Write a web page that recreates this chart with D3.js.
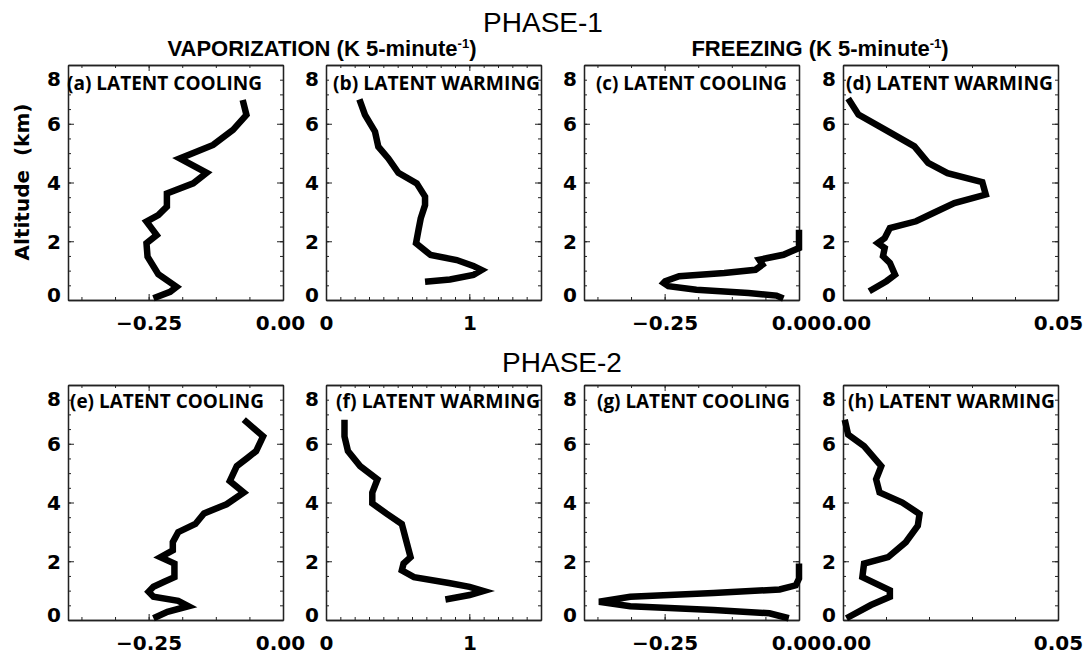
<!DOCTYPE html>
<html>
  <head>
    <meta charset="utf-8">
    <title>Latent cooling and warming profiles</title>
    <style>
      body { margin: 0; background: #fff; }
      .tick text { font-family: 'DejaVu Sans', sans-serif; font-weight: bold; font-size: 20px; fill: #000; }
      .ptitle { font-family: 'Open Sans', sans-serif; font-weight: bold; font-size: 19px; fill: #000; }
      .header { font-family: 'Liberation Sans', Arial, sans-serif; font-weight: bold; font-size: 22px; fill: #000; }
      .phase { font-family: 'Liberation Sans', Arial, sans-serif; font-size: 28px; fill: #000; }
      .ylab { font-family: 'DejaVu Sans', sans-serif; font-weight: bold; font-size: 20px; fill: #000; }
      .profile { fill: none; stroke: #000; stroke-width: 6.5; stroke-linejoin: miter; }
    </style>
  </head>
  <body>
    <div id="chart"></div>
    <script src="https://cdn.jsdelivr.net/npm/d3@7"></script>
    <script>
      // values (K per 5 minutes vs altitude in km)
      var altA = [6.81, 6.30, 5.79, 5.28, 4.82, 4.33, 3.97, 3.63, 3.18, 2.89, 2.67, 2.21, 1.93, 1.47, 0.88, 0.45, 0.28, 0.06];
      var valA = [-0.075, -0.068, -0.093, -0.130, -0.192, -0.142, -0.167, -0.216, -0.216, -0.232, -0.254, -0.235, -0.254, -0.252, -0.232, -0.198, -0.210, -0.241];

      var altB = [6.83, 6.30, 5.73, 5.22, 4.82, 4.33, 3.97, 3.52, 3.23, 2.78, 2.38, 1.93, 1.53, 1.36, 1.16, 1.02, 0.85, 0.70, 0.62];
      var valB = [0.233, 0.272, 0.342, 0.365, 0.435, 0.505, 0.633, 0.691, 0.691, 0.661, 0.645, 0.628, 0.730, 0.912, 1.028, 1.086, 1.028, 0.865, 0.691];

      var altC = [2.39, 1.77, 1.54, 1.37, 1.20, 1.03, 0.92, 0.81, 0.64, 0.58, 0.47, 0.35, 0.24, 0.15, 0.05];
      var valC = [0.0, 0.0, -0.029, -0.074, -0.068, -0.081, -0.139, -0.223, -0.249, -0.252, -0.243, -0.191, -0.094, -0.042, -0.029];

      var altD = [6.86, 6.31, 5.74, 5.23, 4.67, 4.32, 4.01, 3.59, 3.30, 2.96, 2.68, 2.45, 2.11, 1.94, 1.77, 1.49, 1.26, 0.86, 0.64, 0.30];
      var valD = [0.0012, 0.0036, 0.0105, 0.0166, 0.0198, 0.0243, 0.0324, 0.0332, 0.0259, 0.0210, 0.0170, 0.0109, 0.0097, 0.0081, 0.0097, 0.0093, 0.0109, 0.0121, 0.0101, 0.0061];

      var altE = [6.82, 6.25, 5.75, 5.52, 5.24, 4.73, 4.34, 3.94, 3.63, 3.27, 2.99, 2.65, 2.37, 2.14, 1.92, 1.46, 1.30, 1.13, 0.96, 0.79, 0.65, 0.47, 0.28, 0.06];
      var valE = [-0.073, -0.037, -0.050, -0.066, -0.086, -0.099, -0.073, -0.105, -0.147, -0.163, -0.195, -0.205, -0.205, -0.228, -0.202, -0.202, -0.221, -0.241, -0.250, -0.241, -0.195, -0.176, -0.215, -0.241];

      var altF = [6.82, 6.25, 5.75, 5.24, 4.79, 4.34, 3.97, 3.63, 3.27, 2.82, 2.14, 1.92, 1.69, 1.46, 1.26, 1.13, 0.99, 0.85, 0.70];
      var valF = [0.129, 0.129, 0.153, 0.238, 0.359, 0.323, 0.323, 0.420, 0.529, 0.553, 0.590, 0.541, 0.529, 0.614, 0.857, 1.002, 1.099, 1.002, 0.833];

      var altG = [1.92, 1.41, 1.18, 1.04, 0.92, 0.79, 0.62, 0.47, 0.34, 0.23, 0.06];
      var valG = [0.0, 0.0, -0.006, -0.036, -0.159, -0.314, -0.372, -0.314, -0.159, -0.055, -0.019];

      var altH = [6.82, 6.31, 5.92, 5.24, 4.79, 4.34, 4.00, 3.61, 3.21, 2.65, 2.14, 1.92, 1.46, 1.01, 0.79, 0.51, 0.06];
      var valH = [0.0004, 0.0012, 0.0049, 0.0089, 0.0077, 0.0085, 0.0138, 0.0178, 0.0174, 0.0146, 0.0105, 0.0049, 0.0045, 0.0109, 0.0109, 0.0065, 0.0008];

      var panelTitles = ['(a) LATENT COOLING', '(b) LATENT WARMING', '(c) LATENT COOLING', '(d) LATENT WARMING',
                         '(e) LATENT COOLING', '(f) LATENT WARMING', '(g) LATENT COOLING', '(h) LATENT WARMING'];
      var phaseTitles = ['PHASE-1', 'PHASE-2'];
      var groupTitles = ['VAPORIZATION (K 5-minute', 'FREEZING (K 5-minute'];
      var altTicks = [0, 2, 4, 6, 8];

      // x-axis kinds: cooling, vaporization warming, freezing warming
      var coolDomain = [-0.4, 0], coolTicks = [-0.25, 0], coolMinor = 0.0625;
      var vapDomain = [0, 1.5], vapTicks = [0, 1], vapMinor = 0.1;
      var frzDomain = [0, 0.05], frzTicks = [0, 0.05], frzMinor = 0.01;

      var kinds = {
        cool: { domain: coolDomain, ticks: coolTicks, minor: coolMinor, fmt: d3.format('.2f'), edgeDx: -3 },
        vap: { domain: vapDomain, ticks: vapTicks, minor: vapMinor, fmt: d3.format('d'), edgeDx: 0 },
        frz: { domain: frzDomain, ticks: frzTicks, minor: frzMinor, fmt: d3.format('.2f'), edgeDx: 3 }
      };

      var panels = [
        { alt: altA, val: valA, kind: 'cool', row: 0, col: 0, tdx: -1, tlen: 195 },
        { alt: altB, val: valB, kind: 'vap',  row: 0, col: 1, tdx: 7,  tlen: 207 },
        { alt: altC, val: valC, kind: 'cool', row: 0, col: 2, tdx: 12, tlen: 191 },
        { alt: altD, val: valD, kind: 'frz',  row: 0, col: 3, tdx: 3,  tlen: 207 },
        { alt: altE, val: valE, kind: 'cool', row: 1, col: 0, tdx: 2,  tlen: 194 },
        { alt: altF, val: valF, kind: 'vap',  row: 1, col: 1, tdx: 10, tlen: 204 },
        { alt: altG, val: valG, kind: 'cool', row: 1, col: 2, tdx: 13, tlen: 193 },
        { alt: altH, val: valH, kind: 'frz',  row: 1, col: 3, tdx: 5,  tlen: 207 }
      ];

      var width = 1086, height = 658;
      var colX = [68, 326, 584, 843], rowY = [65, 385];
      var pw = 215, ph = 235;

      var svg = d3.select('#chart').append('svg')
        .attr('width', width)
        .attr('height', height);

      // phase titles
      svg.append('text').attr('class', 'phase').attr('x', 543).attr('y', 32)
        .attr('text-anchor', 'middle').text(phaseTitles[0]);
      svg.append('text').attr('class', 'phase').attr('x', 562).attr('y', 372)
        .attr('text-anchor', 'middle').text(phaseTitles[1]);

      // group headers with superscript
      [322, 820].forEach(function(cx, i) {
        var t = svg.append('text').attr('class', 'header').attr('x', cx).attr('y', 56)
          .attr('text-anchor', 'middle');
        t.append('tspan').text(groupTitles[i]);
        t.append('tspan').attr('font-size', 13).attr('dy', -8).text('-1');
        t.append('tspan').attr('dy', 8).text(')');
      });

      // y axis title
      svg.append('text').attr('class', 'ylab')
        .attr('transform', 'translate(29,182) rotate(-90)')
        .attr('text-anchor', 'middle')
        .attr('xml:space', 'preserve')
        .text('Altitude  (km)');

      var y = d3.scaleLinear().domain([0, 8]);
      var line = d3.line();

      panels.forEach(function(p, i) {
        var k = kinds[p.kind];
        var x0 = colX[p.col], y0 = rowY[p.row];
        var x = d3.scaleLinear().domain(k.domain).range([x0, x0 + pw]);
        var yy = y.copy().range([y0 + ph, y0]);
        var g = svg.append('g');

        var minorX = d3.range(k.domain[0], k.domain[1] + 1e-9, k.minor);
        if (p.kind === 'cool') minorX = d3.range(0, k.domain[0] - 1e-9, -k.minor);
        var minorY = d3.range(0, 8.01, 0.5);

        // x axis bottom and top, ticks pointing inward
        g.append('g')
          .attr('transform', 'translate(0,' + (y0 + ph) + ')')
          .call(d3.axisBottom(x).tickValues(minorX).tickSize(-3).tickSizeOuter(0).tickFormat(''));
        var bx = g.append('g')
          .attr('transform', 'translate(0,' + (y0 + ph) + ')')
          .call(d3.axisBottom(x).tickValues(k.ticks).tickSize(-6).tickSizeOuter(0).tickPadding(16).tickFormat(k.fmt));
        // the labels sitting on the shared panel edges are nudged apart a little
        bx.selectAll('.tick text')
          .attr('dx', function(d) { return d === 0 ? k.edgeDx : 0; });
        g.append('g')
          .attr('transform', 'translate(0,' + y0 + ')')
          .call(d3.axisTop(x).tickValues(minorX).tickSize(-3).tickSizeOuter(0).tickFormat(''));
        g.append('g')
          .attr('transform', 'translate(0,' + y0 + ')')
          .call(d3.axisTop(x).tickValues(k.ticks).tickSize(-6).tickSizeOuter(0).tickFormat(''));

        // y axis left and right
        g.append('g')
          .attr('transform', 'translate(' + x0 + ',0)')
          .call(d3.axisLeft(yy).tickValues(minorY).tickSize(-3).tickSizeOuter(0).tickFormat(''));
        var ly = g.append('g')
          .attr('transform', 'translate(' + x0 + ',0)')
          .call(d3.axisLeft(yy).tickValues(altTicks).tickSize(-6).tickSizeOuter(0).tickPadding(7).tickFormat(d3.format('d')));
        ly.selectAll('.tick text')
          .attr('dy', function(d) { return d === 8 ? '1.0em' : (d === 0 ? '0.05em' : '0.36em'); });
        g.append('g')
          .attr('transform', 'translate(' + (x0 + pw) + ',0)')
          .call(d3.axisRight(yy).tickValues(minorY).tickSize(-3).tickSizeOuter(0).tickFormat(''));
        g.append('g')
          .attr('transform', 'translate(' + (x0 + pw) + ',0)')
          .call(d3.axisRight(yy).tickValues(altTicks).tickSize(-6).tickSizeOuter(0).tickFormat(''));

        g.selectAll('.domain').attr('stroke', '#222').attr('stroke-width', 1.3);
        g.selectAll('.tick line').attr('stroke', '#222').attr('stroke-width', 1);

        // profile
        var pts = p.alt.map(function(a, j) { return [x(p.val[j]), yy(a)]; });
        g.append('path').attr('class', 'profile').attr('d', line(pts));

        // panel title
        g.append('text').attr('class', 'ptitle')
          .attr('x', x0 + p.tdx)
          .attr('y', y0 + (p.row === 0 ? 25 : 23))
          .attr('textLength', p.tlen)
          .attr('lengthAdjust', 'spacingAndGlyphs')
          .text(panelTitles[i]);
      });
    </script>
  </body>
</html>
